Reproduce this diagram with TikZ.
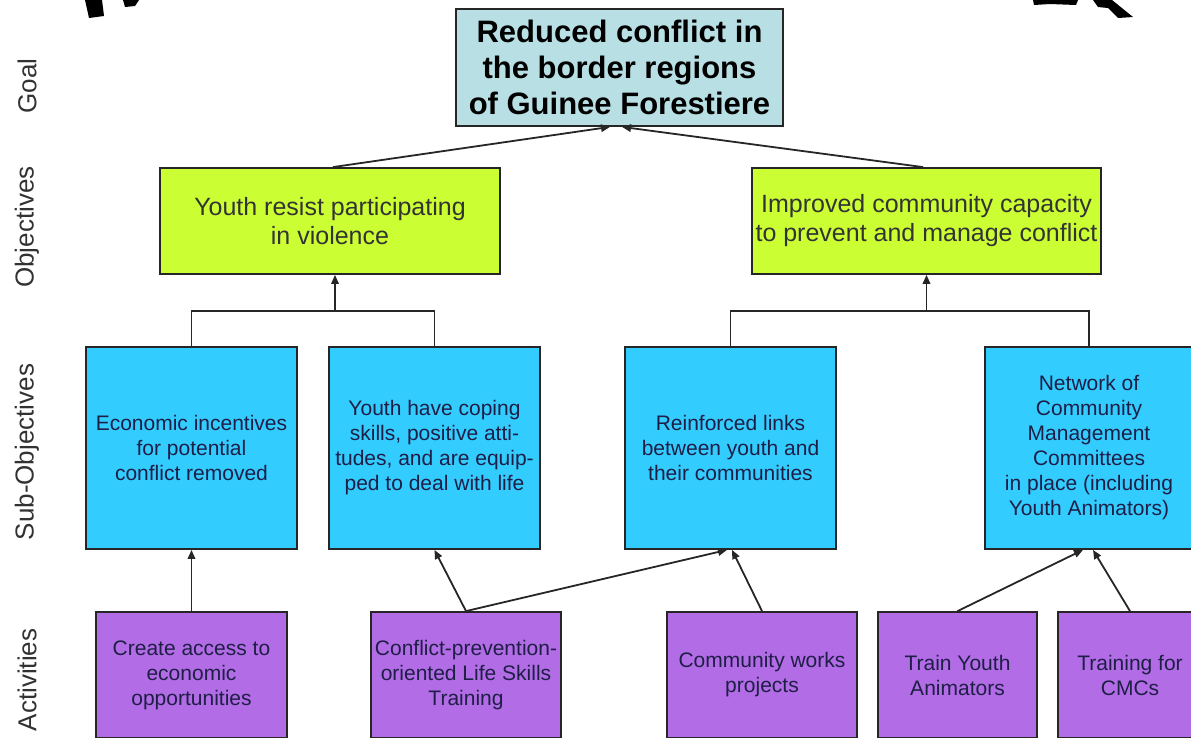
\documentclass[tikz,border=0pt]{standalone}
\usepackage{fontspec}
\setmainfont{Liberation Sans}
\usetikzlibrary{arrows.meta}
\definecolor{goalc}{RGB}{184,224,228}
\definecolor{objc}{RGB}{204,255,51}
\definecolor{subc}{RGB}{51,204,255}
\definecolor{actc}{RGB}{178,108,230}
\definecolor{txtc}{RGB}{30,30,70}
\definecolor{lblc}{RGB}{50,50,50}
\begin{document}
\begin{tikzpicture}[x=1pt,y=-1pt,
  box/.style={draw=black!85, line width=1.8pt, inner sep=0pt, align=center},
  goalbox/.style={box, fill=goalc, font=\fontsize{31}{36}\selectfont\bfseries, text=black},
  objbox/.style={box, fill=objc, minimum height=106pt, font=\fontsize{25}{29}\selectfont, text=black!80},
  subbox/.style={box, fill=subc, minimum width=211pt, minimum height=202pt, font=\fontsize{21}{25}\selectfont, text=txtc},
  actbox/.style={box, fill=actc, minimum height=126pt, font=\fontsize{21}{25}\selectfont, text=txtc},
  lvl/.style={rotate=90, font=\fontsize{26}{30}\selectfont, text=lblc},
  conn/.style={line width=1.8pt, draw=black!85},
  arr/.style={conn, -{Triangle[length=9pt,width=7.5pt]}}]
\useasboundingbox (0,0) rectangle (1191,737);
% cut-off title fragments
\fill[black] (85,0) -- (102,0) -- (104,16) -- (89,18) -- cycle;
\fill[black] (123,0) -- (139,0) -- (135,6) -- (125,7) -- cycle;
\fill[black] (1033,0) -- (1078,0) -- (1076,5) -- (1050,4) -- (1034,5) -- cycle;
\fill[black] (1093,0) -- (1112,0) -- (1133,17) -- (1118,18) -- (1108,8) -- (1098,7) -- cycle;
% level labels
\node[lvl] (lgoal) at (27,86) {Goal};
\node[lvl] (lobj) at (27,227) {Objectives};
\node[lvl] (lsub) at (27,452) {Sub-Objectives};
\node[lvl] (lact) at (27,680) {Activities};
% goal
\node[goalbox, minimum width=327pt, minimum height=117pt] (goal) at (619.5,67.5)
  {Reduced conflict in\\the border regions\\of Guinee Forestiere};
% objectives
\node[objbox, minimum width=340pt] (obj1) at (330,221) {Youth resist participating\\in violence};
\node[objbox, minimum width=349pt] (obj2) at (926.5,221) {Improved community capacity\\to prevent and manage conflict};
% sub-objectives
\node[subbox] (s1) at (191.5,448) {Economic incentives\\for potential\\conflict removed};
\node[subbox] (s2) at (434.5,448) {Youth have coping\\skills, positive atti-\\tudes, and are equip-\\ped to deal with life};
\node[subbox] (s3) at (730.5,448) {Reinforced links\\between youth and\\their communities};
\node[subbox, minimum width=208pt] (s4) at (1089,448) {Network of\\Community\\Management\\Committees\\in place (including\\Youth Animators)};
% activities
\node[actbox, minimum width=191pt] (a1) at (191.5,675) {Create access to\\economic\\opportunities};
\node[actbox, minimum width=190pt] (a2) at (466,675) {Conflict-prevention-\\oriented Life Skills\\Training};
\node[actbox, minimum width=190pt] (a3) at (762,675) {Community works\\projects};
\node[actbox, minimum width=159pt] (a4) at (957.5,675) {Train Youth\\Animators};
\node[actbox, minimum width=144pt] (a5) at (1130,675) {Training for\\CMCs};
% objectives -> goal
\draw[arr] ([xshift=3pt]obj1.north) -- ([xshift=-9.5pt]goal.south);
\draw[arr] ([xshift=-3.5pt]obj2.north) -- ([xshift=2.5pt]goal.south);
% sub-objectives -> objectives
\coordinate (b1) at (335,311);
\coordinate (b2) at (926.5,311);
\draw[conn] (s1.north) |- (b1) -| (s2.north);
\draw[arr] (b1) -- (b1 |- obj1.south);
\draw[conn] (s3.north) |- (b2) -| (s4.north);
\draw[arr] (b2) -- (b2 |- obj2.south);
% activities -> sub-objectives
\draw[arr] (a1.north) -- (s1.south);
\draw[arr] (a2.north) -- (s2.south);
\draw[arr] (a2.north) -- ([xshift=-3.5pt]s3.south);
\draw[arr] (a3.north) -- ([xshift=1.5pt]s3.south);
\draw[arr] (a4.north) -- ([xshift=-6pt]s4.south);
\draw[arr] (a5.north) -- ([xshift=4pt]s4.south);
\end{tikzpicture}
\end{document}
